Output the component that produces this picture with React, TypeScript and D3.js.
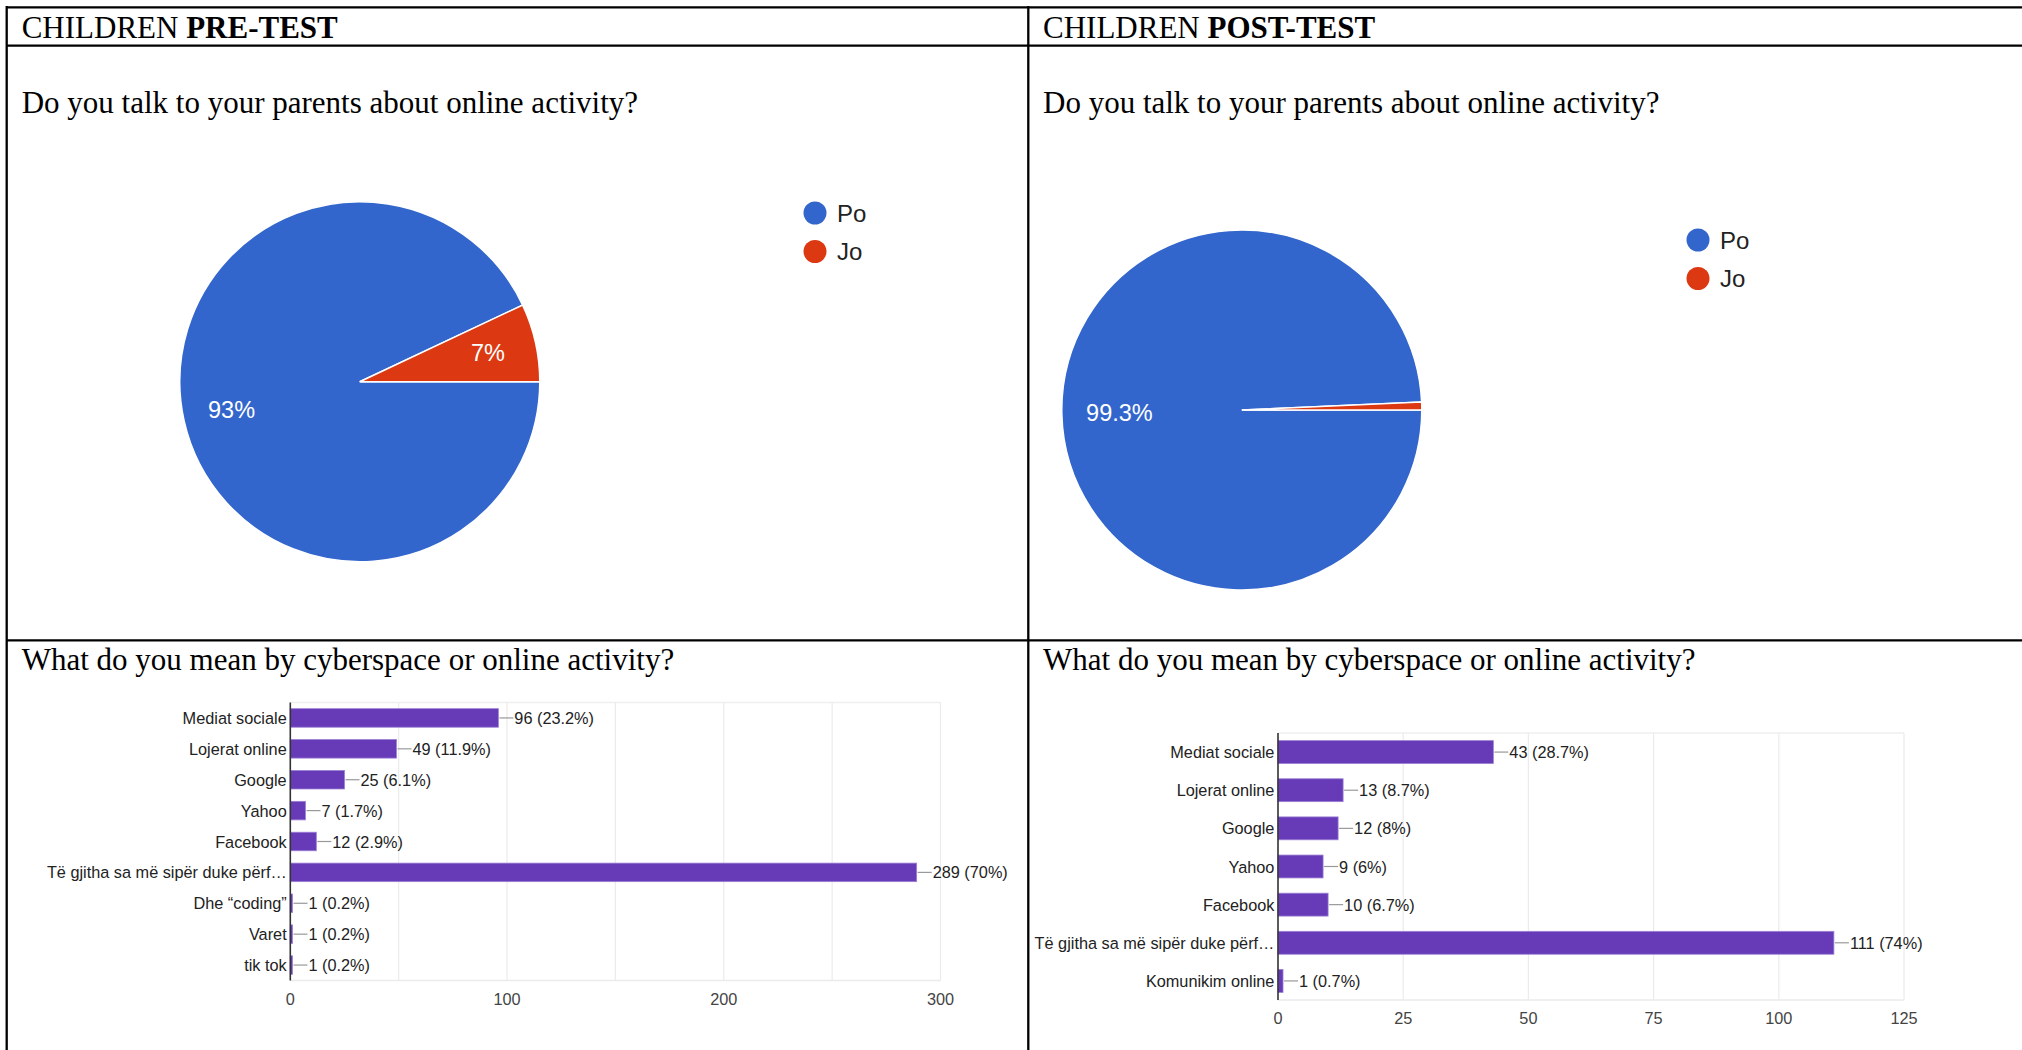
import * as d3 from 'd3'

// pie data
const pieLabels = ['Po', 'Jo']
const prePie = [93, 7]
const postPie = [99.3, 0.7]
const pieColors = ['#3366cc', '#dc3912']

// bar data (pre-test)
const preCats = [
  'Mediat sociale',
  'Lojerat online',
  'Google',
  'Yahoo',
  'Facebook',
  'Të gjitha sa më sipër duke përf…',
  'Dhe “coding”',
  'Varet',
  'tik tok',
]
const preCounts = [96, 49, 25, 7, 12, 289, 1, 1, 1]
const prePct = ['23.2%', '11.9%', '6.1%', '1.7%', '2.9%', '70%', '0.2%', '0.2%', '0.2%']
const preTicks = [0, 100, 200, 300]
const preGrid = [50, 100, 150, 200, 250, 300]

// bar data (post-test)
const postCats = [
  'Mediat sociale',
  'Lojerat online',
  'Google',
  'Yahoo',
  'Facebook',
  'Të gjitha sa më sipër duke përf…',
  'Komunikim online',
]
const postCounts = [43, 13, 12, 9, 10, 111, 1]
const postPct = ['28.7%', '8.7%', '8%', '6%', '6.7%', '74%', '0.7%']
const postTicks = [0, 25, 50, 75, 100, 125]
const postGrid = [25, 50, 75, 100, 125]

const W = 2022
const H = 1050
const serif = '"Liberation Serif", "Times New Roman", serif'
const sans = '"Liberation Sans", Arial, sans-serif'

function Pie({ cx, cy, r, values, legendX, legendY, labelR }: {
  cx: number; cy: number; r: number; values: number[]; legendX: number; legendY: number; labelR: number
}) {
  const pie = d3.pie<number>().sort(null).startAngle(Math.PI / 2).endAngle(Math.PI / 2 + Math.PI * 2)
  const arcs = pie(values)
  const arc = d3.arc<d3.PieArcDatum<number>>().innerRadius(0).outerRadius(r)
  const labelArc = d3.arc<d3.PieArcDatum<number>>().innerRadius(r * labelR).outerRadius(r * labelR)
  const total = d3.sum(values)
  return (
    <g>
      <g transform={`translate(${cx},${cy})`}>
        {arcs.map((a, i) => (
          <path key={i} d={arc(a) || ''} fill={pieColors[i]} stroke="#fff" strokeWidth={1.5} />
        ))}
        {arcs.map((a, i) => {
          // tiny slices get no label
          if (a.value / total < 0.02) return null
          const [lx, ly] = labelArc.centroid(a)
          return (
            <text key={i} x={lx} y={ly} fill="#fff" fontFamily={sans} fontSize={23.5}
              textAnchor="middle" dominantBaseline="central">
              {a.value}%
            </text>
          )
        })}
      </g>
      {pieLabels.map((l, i) => (
        <g key={l} transform={`translate(${legendX},${legendY + i * 38.5})`}>
          <circle r={11.5} fill={pieColors[i]} />
          <text x={22} fill="#222" fontFamily={sans} fontSize={24} dominantBaseline="central">{l}</text>
        </g>
      ))}
    </g>
  )
}

function Bars({ cats, counts, pct, ticks, grid, x0, x1, y0, y1, max }: {
  cats: string[]; counts: number[]; pct: string[]; ticks: number[]; grid: number[]
  x0: number; x1: number; y0: number; y1: number; max: number
}) {
  const x = d3.scaleLinear().domain([0, max]).range([x0, x1])
  const y = d3.scaleBand<string>().domain(cats).range([y0, y1]).paddingInner(0.4).paddingOuter(0.2)
  return (
    <g fontFamily={sans} fontSize={16.3}>
      <line x1={x0} x2={x1} y1={y0} y2={y0} stroke="#efefef" strokeWidth={1.5} />
      <line x1={x0} x2={x1} y1={y1} y2={y1} stroke="#ebebeb" strokeWidth={1.5} />
      {grid.map(g => (
        <line key={g} x1={x(g)} x2={x(g)} y1={y0} y2={y1} stroke="#ebebeb" strokeWidth={1.2} />
      ))}
      {cats.map((c, i) => {
        const yc = (y(c) || 0) + y.bandwidth() / 2
        const xe = x(counts[i])
        return (
          <g key={i}>
            <rect x={x0} y={y(c)} width={xe - x0} height={y.bandwidth()} fill="#673ab7"
              stroke="#9a7fd4" strokeWidth={0.8} />
            <text x={x0 - 3.6} y={yc} textAnchor="end" dominantBaseline="central" fill="#222">{c}</text>
            <line x1={xe + 1} x2={xe + 15} y1={yc} y2={yc} stroke="#999" strokeWidth={1.2} />
            <text x={xe + 16} y={yc} dominantBaseline="central" fill="#222">{`${counts[i]} (${pct[i]})`}</text>
          </g>
        )
      })}
      <line x1={x0} x2={x0} y1={y0} y2={y1} stroke="#333" strokeWidth={1.6} />
      {ticks.map(t => (
        <text key={t} x={x(t)} y={y1 + 18} textAnchor="middle" dominantBaseline="central" fill="#444">{t}</text>
      ))}
    </g>
  )
}

export default function App() {
  const lw = 2.3
  return (
    <>
      <style>{'body{margin:0;overflow:hidden;background:#fff}'}</style>
      <svg width={W} height={H} style={{ display: 'block' }}>
        <rect width={W} height={H} fill="#fff" />

        {/* table grid */}
        <g stroke="#000" strokeWidth={lw}>
          <line x1={6.7} x2={W} y1={7.3} y2={7.3} />
          <line x1={6.7} x2={W} y1={45.7} y2={45.7} />
          <line x1={6.7} x2={W} y1={640.3} y2={640.3} />
          <line x1={6.7} x2={6.7} y1={6} y2={H} />
          <line x1={1028.3} x2={1028.3} y1={6} y2={H} />
        </g>

        <g fontFamily={serif} fontSize={31} fill="#000">
          <text x={21.7} y={37.7}>CHILDREN <tspan fontWeight="bold">PRE-TEST</tspan></text>
          <text x={1043} y={37.7}>CHILDREN <tspan fontWeight="bold">POST-TEST</tspan></text>
          <text x={21.7} y={113}>Do you talk to your parents about online activity?</text>
          <text x={1043} y={113}>Do you talk to your parents about online activity?</text>
          <text x={21.7} y={670}>What do you mean by cyberspace or online activity?</text>
          <text x={1043} y={670}>What do you mean by cyberspace or online activity?</text>
        </g>

        <Pie cx={359.8} cy={381.7} r={180} values={prePie} legendX={815} legendY={213} labelR={0.73} />
        <Pie cx={1241.8} cy={410} r={180} values={postPie} legendX={1698} legendY={240} labelR={0.68} />

        <Bars cats={preCats} counts={preCounts} pct={prePct} ticks={preTicks} grid={preGrid}
          x0={290.3} x1={940.5} y0={702.5} y1={980.5} max={300} />
        <Bars cats={postCats} counts={postCounts} pct={postPct} ticks={postTicks} grid={postGrid}
          x0={1278} x1={1904} y0={733} y1={1000} max={125} />
      </svg>
    </>
  )
}
